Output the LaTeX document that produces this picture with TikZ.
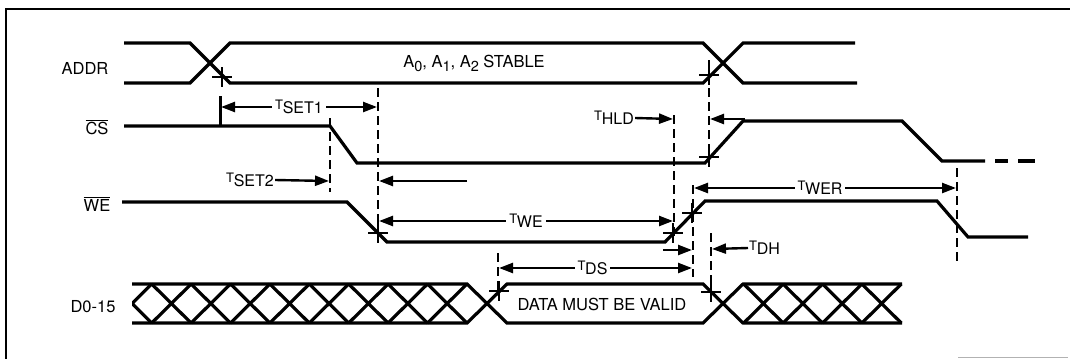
\documentclass[tikz,border=0pt]{standalone}
\usepackage{fontspec}
\setmainfont{TeX Gyre Heros}
\usetikzlibrary{arrows.meta}
\newcommand\tlab[1]{\raisebox{0.5ex}{\fontsize{13}{13}\selectfont T}\kern-0.3pt#1}
\newcommand\lowsub[1]{\raisebox{-0.45ex}{\fontsize{14.5}{14.5}\selectfont #1}}
\newcommand\ovl[1]{\ensuremath{\overline{\mbox{#1}}}}
\begin{document}
\begin{tikzpicture}[x=1pt,y=-1pt,
  sig/.style={line width=3.2pt},
  dsh/.style={line width=2.6pt, dash pattern=on 9pt off 5pt},
  dimarr/.style={line width=2.4pt, {Triangle[length=14pt,width=10pt]}-{Triangle[length=14pt,width=10pt]}},
  onearr/.style={line width=2.4pt, -{Triangle[length=14pt,width=10pt]}},
  lab/.style={font=\fontsize{16.5}{19}\selectfont, inner sep=1pt},
  tl/.style={font=\fontsize{16}{19}\selectfont, fill=white, inner sep=3pt},
  pm/.pic={\draw[line width=2.5pt] (-10,0)--(10,0) (0,-10)--(0,10);}
]
\useasboundingbox (0,0) rectangle (1070,359);
% frame
\draw[line width=1.8pt] (1070,9) -- (6,9) -- (6,359);
\draw[line width=1.2pt, gray!60] (958,357.5) -- (1068,357.5);

% signal labels
\node[lab] (addr) at (85,68) {ADDR};
\node[lab] (cs) at (97,127) {\ovl{CS}};
\node[lab] (we) at (97,204) {\ovl{WE}};
\node[lab] (dbus) at (93,307) {D0-15};

% ADDR
\draw[sig] (124,43) -- (190,43) -- (230,83) -- (703,83) -- (743,43) -- (855,43);
\draw[sig] (124,83) -- (190,83) -- (230,43) -- (703,43) -- (743,83) -- (857,83);
\node[lab] (stable) at (474,63) {A\lowsub{0}, A\lowsub{1}, A\lowsub{2} STABLE};

% CS
\draw[sig] (124,126) -- (330,126) -- (357,163) -- (705,163) -- (743,121) -- (902,121) -- (942,161) -- (985,161);
\draw[sig] (995,161) -- (1008,161) (1018,161) -- (1035,161);

% WE
\draw[sig] (122,202) -- (347,202) -- (387,242) -- (665,242) -- (705,201) -- (937,201) -- (968,237) -- (1028,237);

% data bus
\draw[sig] (132,284) -- (467,284) -- (507,323) -- (703,323) -- (743,284) -- (902,284);
\draw[sig] (132,323) -- (467,323) -- (507,284) -- (703,284) -- (743,323) -- (902,323);
\begin{scope}
  \clip (132,270) rectangle (467,340);
  \foreach \k in {0,...,9} {
    \pgfmathsetmacro\c{132+39.4*\k}
    \draw[sig] (\c-19.7,284) -- (\c+19.7,323) (\c-19.7,323) -- (\c+19.7,284);
  }
\end{scope}
\begin{scope}
  \clip (743,270) rectangle (903,340);
  \foreach \k in {1,...,4} {
    \pgfmathsetmacro\c{724+39.4*\k}
    \draw[sig] (\c-19.7,284) -- (\c+19.7,323) (\c-19.7,323) -- (\c+19.7,284);
  }
\end{scope}
\node[lab] (valid) at (602,304) {DATA MUST BE VALID};

% reference lines
\draw[line width=2.6pt] (220.5,96) -- (220.5,126);
\draw[dsh] (378,88) -- (378,243);
\draw[dsh] (330,118) -- (330,192);
\draw[dsh] (674,115) -- (674,240);
\draw[dsh] (709,60) -- (709,170);
\draw[dsh] (693,185) -- (693,277);
\draw[dsh] (957,168) -- (957,265);
\draw[dsh] (711,233) -- (711,290);
\draw[dsh] (498,253) -- (498,292);

% crossing marks
\pic at (222,77) {pm};
\pic at (709,75) {pm};
\pic at (709,157) {pm};
\pic at (378,233) {pm};
\pic at (673,233) {pm};
\pic at (692,213) {pm};
\pic at (499,291) {pm};
\pic at (711,292) {pm};

% dimension coordinates
\coordinate (s1a) at (221,107);  \coordinate (s1b) at (377,107);
\coordinate (s2b) at (329,181);
\coordinate (la) at (467,181);   \coordinate (lb) at (379,181);
\coordinate (hb) at (673,119);
\coordinate (ra) at (745,119);   \coordinate (rb) at (710,119);
\coordinate (wea) at (379,221);  \coordinate (web) at (673,221);
\coordinate (wra) at (694,188);  \coordinate (wrb) at (956,188);
\coordinate (dsa) at (499,268);  \coordinate (dsb) at (692,268);
\coordinate (dha) at (663,250);  \coordinate (dhb) at (692,250);
\coordinate (dhc) at (712,249);

\draw[dimarr] (s1a) -- (s1b) node[tl, midway] (tset1) {\tlab{SET1}};
\node[tl, fill=none, inner sep=1pt] (tset2) at (250,180) {\tlab{SET2}};
\draw[onearr] (tset2.east) -- (s2b);
\draw[onearr] (la) -- (lb);
\node[tl, fill=none, inner sep=1pt] (thld) at (614,118) {\tlab{HLD}};
\draw[onearr] (thld.east) -- (hb);
\draw[onearr] (ra) -- (rb);
\draw[dimarr] (wea) -- (web) node[tl, midway] (twe) {\tlab{WE}};
\draw[dimarr] (wra) -- (wrb) node[tl, midway, xshift=-5pt] (twer) {\tlab{WER}};
\draw[dimarr] (dsa) -- (dsb) node[tl, midway, xshift=-3pt] (tds) {\tlab{DS}};
\draw[onearr] (dha) -- (dhb);
\node[tl, fill=none, inner sep=1pt, anchor=west] (tdh) at (748,248) {\tlab{DH}};
\draw[onearr] (tdh.west) -- (dhc);
\end{tikzpicture}
\end{document}
